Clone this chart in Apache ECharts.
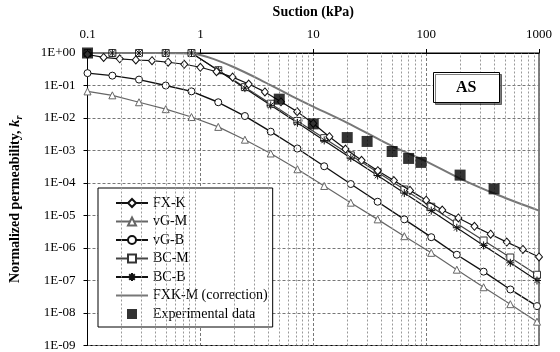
<!DOCTYPE html>
<html>
<head>
<meta charset="utf-8">
<script src="https://cdn.jsdelivr.net/npm/echarts@6/dist/echarts.min.js"></script>
<style>
html,body{margin:0;padding:0;background:#fff}
#main{width:560px;height:352px}
</style>
</head>
<body>
<div id="main"></div>
<script type="text/javascript">
// suction (kPa) where the vG / BC markers sit
var suctionModel = [0.1, 0.166, 0.286, 0.493, 0.834, 1.44, 2.48, 4.2, 7.24, 12.5, 21.5, 37.2, 64.1, 111, 187, 323, 557, 960];
var vgM = [0.0658, 0.0498, 0.0305, 0.0187, 0.0107, 0.00533, 0.00215, 8.1e-4, 2.65e-4, 8.1e-5, 2.48e-5, 7.6e-6, 2.31e-6, 7.1e-7, 2.15e-7, 6.2e-8, 1.87e-8, 5.4e-9];
var vgB = [0.24, 0.201, 0.152, 0.1, 0.066, 0.0305, 0.0115, 0.0038, 0.00115, 3.27e-4, 9.3e-5, 2.65e-5, 7.6e-6, 2.15e-6, 6.2e-7, 1.87e-7, 5.3e-8, 1.63e-8];
var bcM = [1, 1, 1, 1, 1, 0.295, 0.089, 0.0275, 0.0081, 0.0024, 7.1e-4, 2.14e-4, 6.3e-5, 1.86e-5, 5.7e-6, 1.7e-6, 5.1e-7, 1.5e-7];
var bcB = [1, 1, 1, 1, 1, 0.29, 0.083, 0.0245, 0.0071, 0.00204, 5.9e-4, 1.7e-4, 4.9e-5, 1.41e-5, 4.2e-6, 1.2e-6, 3.5e-7, 1.0e-7];
// FX-K has denser markers
var suctionFxk = [0.1, 0.139, 0.193, 0.268, 0.373, 0.518, 0.72, 1, 1.39, 1.93, 2.68, 3.73, 5.18, 7.2, 10, 13.9, 19.3, 26.8, 37.3, 51.8, 72, 100, 139, 193, 268, 373, 518, 720, 1000];
var fxK = [0.9, 0.73, 0.66, 0.61, 0.58, 0.52, 0.45, 0.364, 0.265, 0.181, 0.111, 0.0636, 0.0316, 0.0157, 0.0068, 0.00266, 0.00111, 4.98e-4, 2.39e-4, 1.19e-4, 5.93e-5, 2.95e-5, 1.47e-5, 8.4e-6, 4.64e-6, 2.66e-6, 1.52e-6, 9.0e-7, 5.3e-7];
// FXK-M (correction), plain line
var suctionCorr = [0.1, 0.4, 0.87, 1.3, 1.94, 3.36, 6.5, 10, 20, 50, 100, 200, 450, 1000];
var fxkCorr = [1, 1, 0.95, 0.66, 0.377, 0.152, 0.0464, 0.0224, 0.0071, 0.00137, 4.65e-4, 1.37e-4, 4.04e-5, 1.41e-5];
// experimental data
var suctionExp = [0.1, 5, 10, 20, 30, 50, 70, 90, 200, 400];
var kExp = [1, 0.038, 0.0066, 0.0025, 0.0019, 9.3e-4, 5.7e-4, 4.3e-4, 1.75e-4, 6.6e-5];

function pairs(xs, ys) {
	var out = [];
	for (var i = 0; i < xs.length; i++) out.push([xs[i], ys[i]]);
	return out;
}

// minor vertical grid lines 2..9 per decade
var minorLines = [];
for (var e = -1; e < 3; e++) {
	for (var m = 2; m < 10; m++) {
		minorLines.push({xAxis: m * Math.pow(10, e)});
	}
}

var serif = 'Liberation Serif';
var hollow = {color: '#fff', borderColor: '#111', borderWidth: 1};

var myChart = echarts.init(document.getElementById('main'));
var option = {
	animation: false,
	backgroundColor: '#fff',
	title: {
		text: 'AS',
		left: 433, top: 72,
		padding: [7, 23, 6, 23],
		borderColor: '#000', borderWidth: 1,
		backgroundColor: '#fff',
		shadowColor: 'rgba(0,0,0,0.5)', shadowOffsetX: 2, shadowOffsetY: 2, shadowBlur: 0,
		textStyle: {fontFamily: serif, fontWeight: 'bold', fontSize: 16, color: '#000', lineHeight: 18}
	},
	legend: {
		data: [
			'FX-K', 'vG-M', 'vG-B', 'BC-M', 'BC-B',
			{name: 'FXK-M (correction)', icon: 'path://M0,4h32v2h-32z'},
			{name: 'Experimental data', icon: 'path://M0,0h9v9h-9z'}
		],
		orient: 'vertical',
		left: 98, top: 188,
		padding: [8, 5, 6, 17],
		itemWidth: 32, itemHeight: 10, itemGap: 4.5,
		borderColor: '#000', borderWidth: 1,
		backgroundColor: '#fff',
		textStyle: {fontFamily: serif, fontSize: 14, color: '#000'}
	},
	grid: {
		left: 83, right: 21, top: 52, bottom: 3,
		show: true, borderColor: '#000', borderWidth: 1
	},
	xAxis: {
		type: 'log', logBase: 10, min: 0.1, max: 1000,
		position: 'top',
		name: 'Suction (kPa)', nameLocation: 'middle', nameGap: 34,
		nameTextStyle: {fontFamily: serif, fontWeight: 'bold', fontSize: 14, color: '#000'},
		axisLine: {lineStyle: {color: '#000', width: 1}},
		axisTick: {show: true, length: 4, lineStyle: {color: '#000'}},
		axisLabel: {
			margin: 12, fontFamily: serif, fontSize: 13, color: '#000',
			formatter: function (v) { return String(+v.toPrecision(3)); }
		},
		splitLine: {show: true, lineStyle: {color: '#777', type: [3, 2], width: 1}}
	},
	yAxis: {
		type: 'log', logBase: 10, min: 1e-9, max: 1,
		name: 'Normalized permeability, {i|k}{s|r}', nameLocation: 'middle', nameGap: 63,
		nameTextStyle: {
			fontFamily: serif, fontWeight: 'bold', fontSize: 14, color: '#000',
			rich: {
				i: {fontFamily: serif, fontWeight: 'bold', fontStyle: 'italic', fontSize: 15, color: '#000'},
				s: {fontFamily: serif, fontWeight: 'bold', fontStyle: 'italic', fontSize: 10, color: '#000', padding: [8, 0, 0, 0]}
			}
		},
		axisLine: {show: true, lineStyle: {color: '#000', width: 1}},
		axisTick: {show: true, length: 4, lineStyle: {color: '#000'}},
		axisLabel: {
			margin: 12, fontFamily: serif, fontSize: 13, color: '#000',
			formatter: function (v) {
				var p = Math.round(Math.log10(v));
				var a = Math.abs(p);
				return '1E' + (p < 0 ? '-' : '+') + (a < 10 ? '0' : '') + a;
			}
		},
		splitLine: {show: true, lineStyle: {color: '#777', type: [3, 2], width: 1}}
	},
	series: [
		{
			name: 'FX-K', type: 'line', data: pairs(suctionFxk, fxK),
			symbol: 'diamond', symbolSize: [7, 8], itemStyle: hollow,
			lineStyle: {color: '#111', width: 1.2}, z: 4
		},
		{
			name: 'vG-M', type: 'line', data: pairs(suctionModel, vgM),
			symbol: 'triangle', symbolSize: 7,
			itemStyle: {color: '#fff', borderColor: '#666', borderWidth: 1},
			lineStyle: {color: '#666', width: 1.2}, z: 3
		},
		{
			name: 'vG-B', type: 'line', data: pairs(suctionModel, vgB),
			symbol: 'circle', symbolSize: 7, itemStyle: hollow,
			lineStyle: {color: '#111', width: 1.4}, z: 3
		},
		{
			name: 'BC-M', type: 'line', data: pairs(suctionModel, bcM),
			symbol: 'rect', symbolSize: 7,
			itemStyle: {color: '#fff', borderColor: '#333', borderWidth: 1},
			lineStyle: {color: '#444', width: 1.2}, z: 3
		},
		{
			name: 'BC-B', type: 'line', data: pairs(suctionModel, bcB),
			symbol: 'path://M5,0L5,10M0,5L10,5M1.5,1.5L8.5,8.5M1.5,8.5L8.5,1.5', symbolSize: 8,
			itemStyle: {color: 'rgba(0,0,0,0)', borderColor: '#111', borderWidth: 1},
			lineStyle: {color: '#111', width: 1.2}, z: 3
		},
		{
			name: 'FXK-M (correction)', type: 'line', data: pairs(suctionCorr, fxkCorr),
			symbol: 'none', smooth: 0.25,
			itemStyle: {color: '#777'},
			lineStyle: {color: '#777', width: 2}, z: 3
		},
		{
			name: 'Experimental data', type: 'scatter', data: pairs(suctionExp, kExp),
			symbol: 'rect', symbolSize: 11,
			itemStyle: {color: '#000'}, z: 5
		},
		{
			name: 'minor grid', type: 'line', data: [], silent: true, z: 1,
			markLine: {
				silent: true, symbol: 'none', label: {show: false},
				lineStyle: {color: '#999', type: [2, 2], width: 1},
				data: minorLines
			}
		}
	]
};
myChart.setOption(option);
</script>
</body>
</html>
